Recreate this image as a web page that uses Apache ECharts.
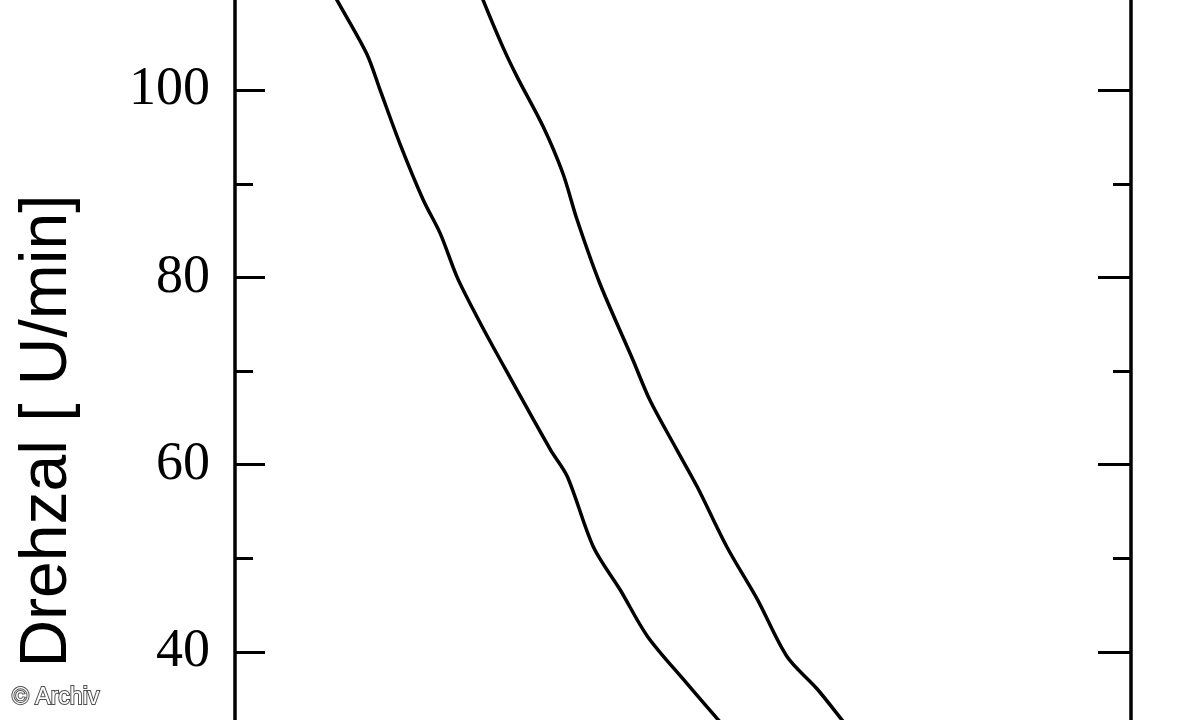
<!DOCTYPE html>
<html>
<head>
<meta charset="utf-8">
<script src="https://cdn.jsdelivr.net/npm/echarts@6/dist/echarts.min.js"></script>
<style>
html,body{margin:0;padding:0;background:#fff;}
#chart{width:1200px;height:720px;}
</style>
</head>
<body>
<div id="chart"></div>
<script>
// Y-axis (Drehzahl) tick settings
const yMin = 20, yMax = 120, yInterval = 20;
const yAxisName = 'Drehzal [ U/min]';
const watermark = '\u00A9 Archiv';

// Curve 1 (left) – x in arbitrary units, y in U/min
const curveLeftX = [10.9, 11.4, 14.7, 16.2, 18.4, 21.0, 22.9, 24.8, 27.0, 29.6, 35.2, 37.1, 40.0, 43.0, 46.0, 50.0, 54.9, 56.5];
const curveLeftY = [110.5, 109.6, 103.9, 100.0, 94.3, 88.3, 84.7, 80.0, 75.8, 71.2, 61.6, 58.7, 51.2, 46.6, 41.7, 37.1, 31.7, 30.3];

// Curve 2 (right)
const curveRightX = [27.4, 27.7, 29.9, 31.5, 34.4, 36.6, 38.2, 40.7, 44.4, 46.3, 49.3, 51.6, 54.9, 58.3, 61.6, 65.0, 68.6, 70.0];
const curveRightY = [110.5, 109.6, 104.6, 101.4, 96.1, 91.1, 86.1, 79.4, 71.2, 66.9, 61.6, 57.6, 51.2, 45.6, 39.5, 36.0, 31.7, 30.2];

const pair = (xs, ys) => xs.map((x, i) => [x, ys[i]]);

const chart = echarts.init(document.getElementById('chart'), null, {renderer: 'canvas'});

const baseY = {
  type: 'value', min: yMin, max: yMax, interval: yInterval,
  splitLine: {show: false},
  axisLine: {show: true, lineStyle: {color: '#000', width: 3.5}},
  minorTick: {show: true, splitNumber: 2, length: 18, lineStyle: {color: '#000', width: 3}},
  minorSplitLine: {show: false}
};

chart.setOption({
  backgroundColor: '#fff',
  animation: false,
  grid: {left: 235, right: 69, top: -97, bottom: -119, containLabel: false, outerBoundsMode: 'none'},
  xAxis: {type: 'value', min: 0, max: 100, show: false, splitLine: {show: false}},
  yAxis: [
    Object.assign({}, baseY, {
      position: 'left',
      axisTick: {show: true, inside: true, length: 30, lineStyle: {color: '#000', width: 3}},
      axisLabel: {show: true, margin: 25, color: '#000', fontSize: 54, fontFamily: 'Liberation Serif'}
    }),
    Object.assign({}, baseY, {
      position: 'right',
      axisTick: {show: true, inside: true, length: 33, lineStyle: {color: '#000', width: 3}},
      axisLabel: {show: false}
    })
  ],
  series: [
    {type: 'line', data: pair(curveLeftX, curveLeftY), showSymbol: false, smooth: 0.3,
     lineStyle: {color: '#000', width: 3.5}},
    {type: 'line', data: pair(curveRightX, curveRightY), showSymbol: false, smooth: 0.3,
     lineStyle: {color: '#000', width: 3.5}}
  ],
  graphic: [
    {type: 'text', x: 48, y: 431, rotation: Math.PI / 2,
     style: {text: yAxisName, fill: '#000', font: '66px "Liberation Sans"', align: 'center', verticalAlign: 'middle'}},
    {type: 'text', x: 12, y: 698,
     style: {text: watermark, fill: '#fff', font: '23px "Liberation Sans"', align: 'left', verticalAlign: 'middle',
             stroke: 'rgba(60,60,60,0.9)', lineWidth: 2, shadowColor: 'rgba(0,0,0,0.7)', shadowBlur: 4}}
  ]
});
</script>
</body>
</html>
